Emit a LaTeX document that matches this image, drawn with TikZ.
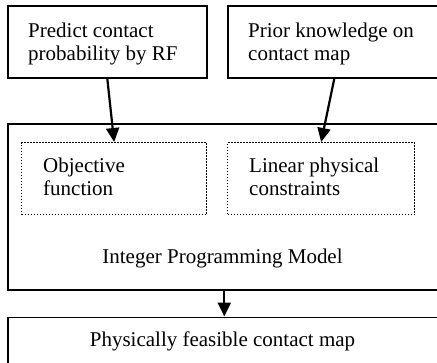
\documentclass[tikz,border=0pt]{standalone}
\usepackage{fontspec}
\setmainfont{Liberation Serif}
\usetikzlibrary{arrows.meta}
\tikzset{
  box/.style={draw=black, line width=1.6pt, rectangle, inner sep=0pt, anchor=north west},
  dotbox/.style={draw=black, line width=1.3pt, dash pattern=on 1.3pt off 1.7pt, rectangle, inner sep=0pt, anchor=north west},
  lbl/.style={inner sep=0pt, anchor=base west, align=left, font=\fontsize{21}{23}\selectfont},
  clbl/.style={inner sep=0pt, anchor=base, font=\fontsize{21}{23}\selectfont},
  arr/.style={line width=2.2pt, -{Triangle[length=14pt,width=13pt]}}
}
\begin{document}
\begin{tikzpicture}[x=1pt,y=-1pt]
\useasboundingbox (0,0) rectangle (437,362);
\node[box, minimum width=199pt, minimum height=72pt] (box1) at (7,5) {};
\node[box, minimum width=213pt, minimum height=72pt] (box2) at (227,5) {};
\node[box, minimum width=433pt, minimum height=166pt] (ipm) at (7,123) {};
\node[dotbox, minimum width=185pt, minimum height=72pt] (obj) at (21,142) {};
\node[dotbox, minimum width=187pt, minimum height=72pt] (lin) at (227,142) {};
\node[box, minimum width=433pt, minimum height=60pt] (out) at (7,316.5) {};
\node[lbl] (t1) at (28,60) {Predict contact\\probability by RF};
\node[lbl] (t2) at (248,60) {Prior knowledge on\\contact map};
\node[lbl] (t3) at (43,195) {Objective\\function};
\node[lbl] (t4) at (249,195) {Linear physical\\constraints};
\node[clbl] (t5) at (222.5,263) {Integer Programming Model};
\node[clbl] (t6) at (222.5,346) {Physically feasible contact map};
\draw[arr] (box1.south) -- (obj.north);
\draw[arr] (box2.south) -- (lin.north);
\draw[arr] (ipm.south) -- (out.north);
\end{tikzpicture}
\end{document}
